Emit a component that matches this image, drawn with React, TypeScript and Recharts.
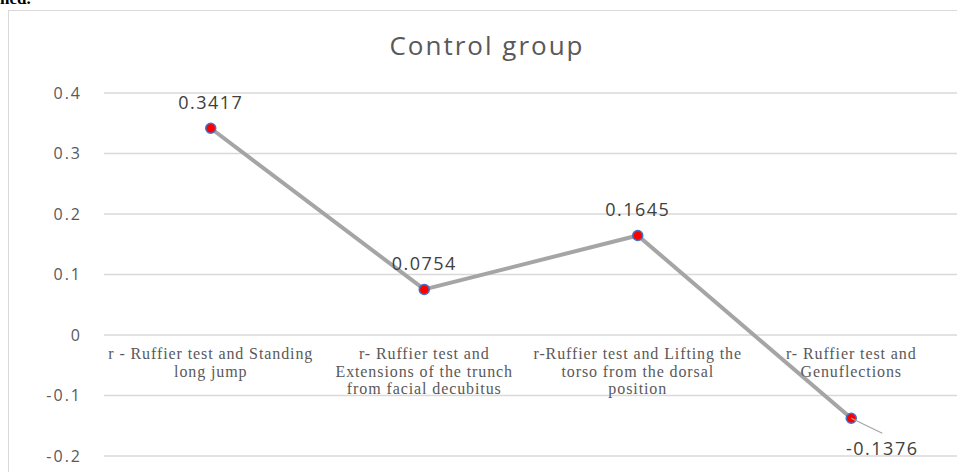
import { LineChart, Line, XAxis, YAxis, CartesianGrid, LabelList } from 'recharts'

const title = 'Control group'

const categories = [
  'r - Ruffier test and Standing long jump',
  'r- Ruffier test and Extensions of the trunch from facial decubitus',
  'r-Ruffier test and Lifting the torso from the dorsal position',
  'r- Ruffier test and Genuflections',
]

const tickLines = [
  ['r - Ruffier test and Standing', 'long jump'],
  ['r- Ruffier test and', 'Extensions of the trunch', 'from facial decubitus'],
  ['r-Ruffier test and Lifting the', 'torso from the dorsal', 'position'],
  ['r- Ruffier test and', 'Genuflections'],
]

const values = [0.3417, 0.0754, 0.1645, -0.1376]

const yTicks = [-0.2, -0.1, 0, 0.1, 0.2, 0.3, 0.4]

const data = categories.map((name, i) => ({ name, value: values[i] }))

const W = 1000
const H = 520
const MARGIN = { top: 93, right: 42, bottom: 63, left: 0 }
const Y_MIN = -0.2
const Y_MAX = 0.4
const PLOT_H = H - MARGIN.top - MARGIN.bottom - 1
// the category labels sit just under the zero line, like Excel does
const ZERO_FROM_BOTTOM = (PLOT_H * (0 - Y_MIN)) / (Y_MAX - Y_MIN)

const SANS = '"Open Sans", Lato, sans-serif'
const SERIF = '"Liberation Serif", "Times New Roman", serif'

function CategoryTick(props: any) {
  const { x, y, index } = props
  const lines = tickLines[index] || []
  const top = y - ZERO_FROM_BOTTOM + 22
  return (
    <text
      x={x}
      y={top}
      textAnchor="middle"
      fill="#595959"
      fontFamily={SERIF}
      fontSize={16}
      letterSpacing={0.9}
    >
      {lines.map((l, i) => (
        <tspan key={i} x={x} dy={i === 0 ? 0 : 17.5}>
          {l}
        </tspan>
      ))}
    </text>
  )
}

function ValueLabel(props: any) {
  const { x, y, value } = props
  const common = {
    textAnchor: 'middle' as const,
    dominantBaseline: 'central' as const,
    fill: '#404040',
    fontFamily: SANS,
    fontSize: 18,
    letterSpacing: 1.5,
  }
  if (value < 0) {
    return (
      <g>
        <line x1={x} y1={y} x2={x + 31} y2={y + 15} stroke="#a5a5a5" strokeWidth={1.2} />
        <text x={x + 31} y={y + 30} {...common}>
          {value}
        </text>
      </g>
    )
  }
  return (
    <text x={x} y={y - 26} {...common}>
      {value}
    </text>
  )
}

export default function App() {
  return (
    <div
      style={{
        position: 'fixed',
        left: 0,
        top: 0,
        width: 957,
        height: 472,
        overflow: 'hidden',
        background: '#fff',
      }}
    >
      <div
        style={{
          position: 'absolute',
          left: 0,
          top: -11,
          fontFamily: SERIF,
          fontWeight: 'bold',
          fontSize: 17,
          color: '#000',
        }}
      >
        ned.
      </div>
      <div
        style={{
          position: 'absolute',
          left: 8,
          top: 10,
          width: 1100,
          height: 600,
          border: '1.5px solid #d9d9d9',
        }}
      />
      <div
        style={{
          position: 'absolute',
          left: 0,
          top: 27,
          width: 974,
          textAlign: 'center',
          fontFamily: SANS,
          fontSize: 26,
          color: '#595959',
          letterSpacing: 2,
        }}
      >
        {title}
      </div>
      <div style={{ position: 'absolute', left: 0, top: 0 }}>
        <LineChart width={W} height={H} data={data} margin={MARGIN}>
          <CartesianGrid vertical={false} stroke="#d9d9d9" strokeWidth={1.5} />
          <XAxis
            dataKey="name"
            scale="band"
            height={1}
            axisLine={false}
            tickLine={false}
            tickSize={0}
            interval={0}
            tick={<CategoryTick />}
          />
          <YAxis
            width={104}
            domain={[Y_MIN, Y_MAX]}
            ticks={yTicks}
            axisLine={false}
            tickLine={false}
            tickSize={0}
            tickMargin={22}
            tick={{ fill: '#595959', fontFamily: SANS, fontSize: 16, letterSpacing: 2 }}
          />
          <Line
            type="linear"
            dataKey="value"
            stroke="#a5a5a5"
            strokeWidth={4}
            dot={{ r: 5, fill: '#ff0000', stroke: '#4472c4', strokeWidth: 1.5 }}
            isAnimationActive={false}
          >
            <LabelList dataKey="value" content={<ValueLabel />} />
          </Line>
        </LineChart>
      </div>
    </div>
  )
}
